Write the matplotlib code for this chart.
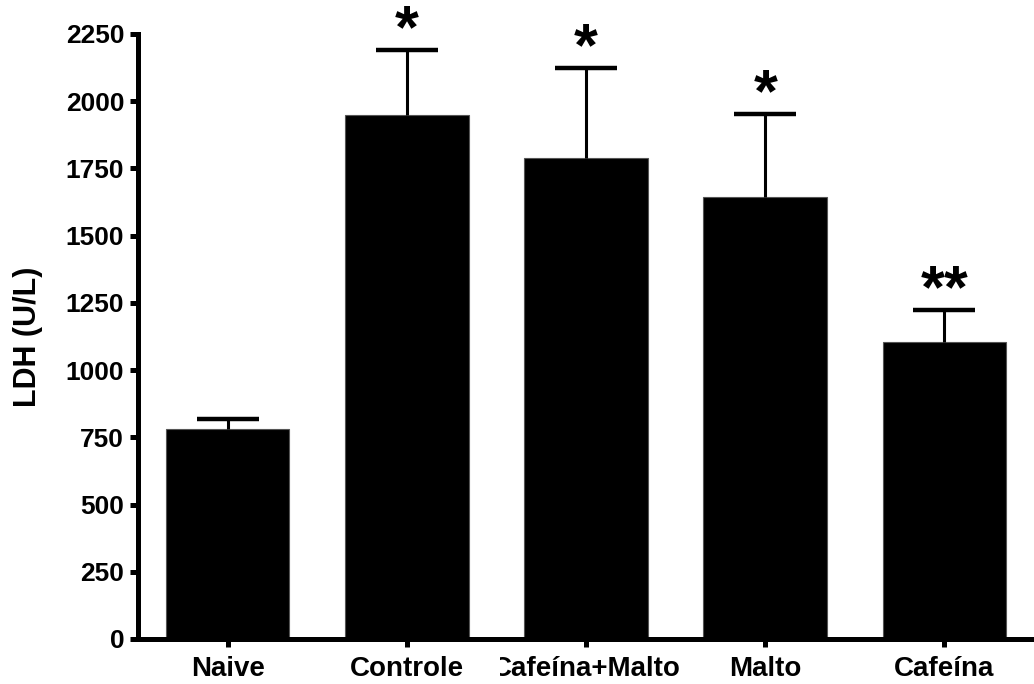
import matplotlib
matplotlib.use("Agg")
import matplotlib.pyplot as plt
import matplotlib.transforms as mtransforms
from matplotlib.patches import Rectangle

plt.rcParams["font.family"] = ["Liberation Sans", "DejaVu Sans"]
plt.rcParams["font.weight"] = "bold"

groups = ["Naive", "Controle", "Cafeína+Malto", "Malto", "Cafeína"]
ldh_mean = [780, 1949, 1788, 1643, 1105]
ldh_err = [37, 241, 336, 311, 119]
marks = ["", "*", "*", "*", "**"]
yticks = [0, 250, 500, 750, 1000, 1250, 1500, 1750, 2000, 2250]

fig = plt.figure(figsize=(10.34, 6.84), dpi=100)
ax = fig.add_axes([0.1335, 0.0658, 0.8665, 0.8845])

x = list(range(len(groups)))
ax.bar(x, ldh_mean, width=0.69, color="black", edgecolor="#555555", linewidth=0.8, zorder=2)
_, caps, _ = ax.errorbar(x, ldh_mean, yerr=[[0] * len(x), ldh_err], fmt="none",
                         ecolor="black", elinewidth=2.2, capsize=22, capthick=3.2, zorder=3)
# only the upper half of the error bar is shown
caps[0].set_visible(False)

for xi, m, e, s in zip(x, ldh_mean, ldh_err, marks):
    if s:
        ax.annotate(s, (xi, m + e), xytext=(0, 2), textcoords="offset points",
                    ha="center", va="baseline", fontsize=44, fontweight="bold",
                    annotation_clip=False)

ax.set_xlim(-0.5, 4.5)
ax.set_ylim(0, 2250)
ax.set_yticks(yticks)
ax.set_xticks(x)
ax.set_xticklabels(groups, fontsize=20)
ax.set_ylabel("LDH (U/L)", fontsize=22, fontweight="bold", labelpad=16)

for side in ["top", "right"]:
    ax.spines[side].set_visible(False)
for side in ["left", "bottom"]:
    ax.spines[side].set_linewidth(3.6)
ax.tick_params(axis="both", width=3.6, length=6, pad=4)
ax.tick_params(axis="y", labelsize=19)
ax.tick_params(axis="x", pad=6)

# the long label is cut to its slot, as in the original
trans = mtransforms.blended_transform_factory(ax.transData, fig.transFigure)
clip = Rectangle((1.52, 0.0), 1.05, 0.07, transform=trans, facecolor="none")
labels = ax.get_xticklabels()
labels[2].set_clip_path(clip)

fig.savefig("out.png", dpi=100)
